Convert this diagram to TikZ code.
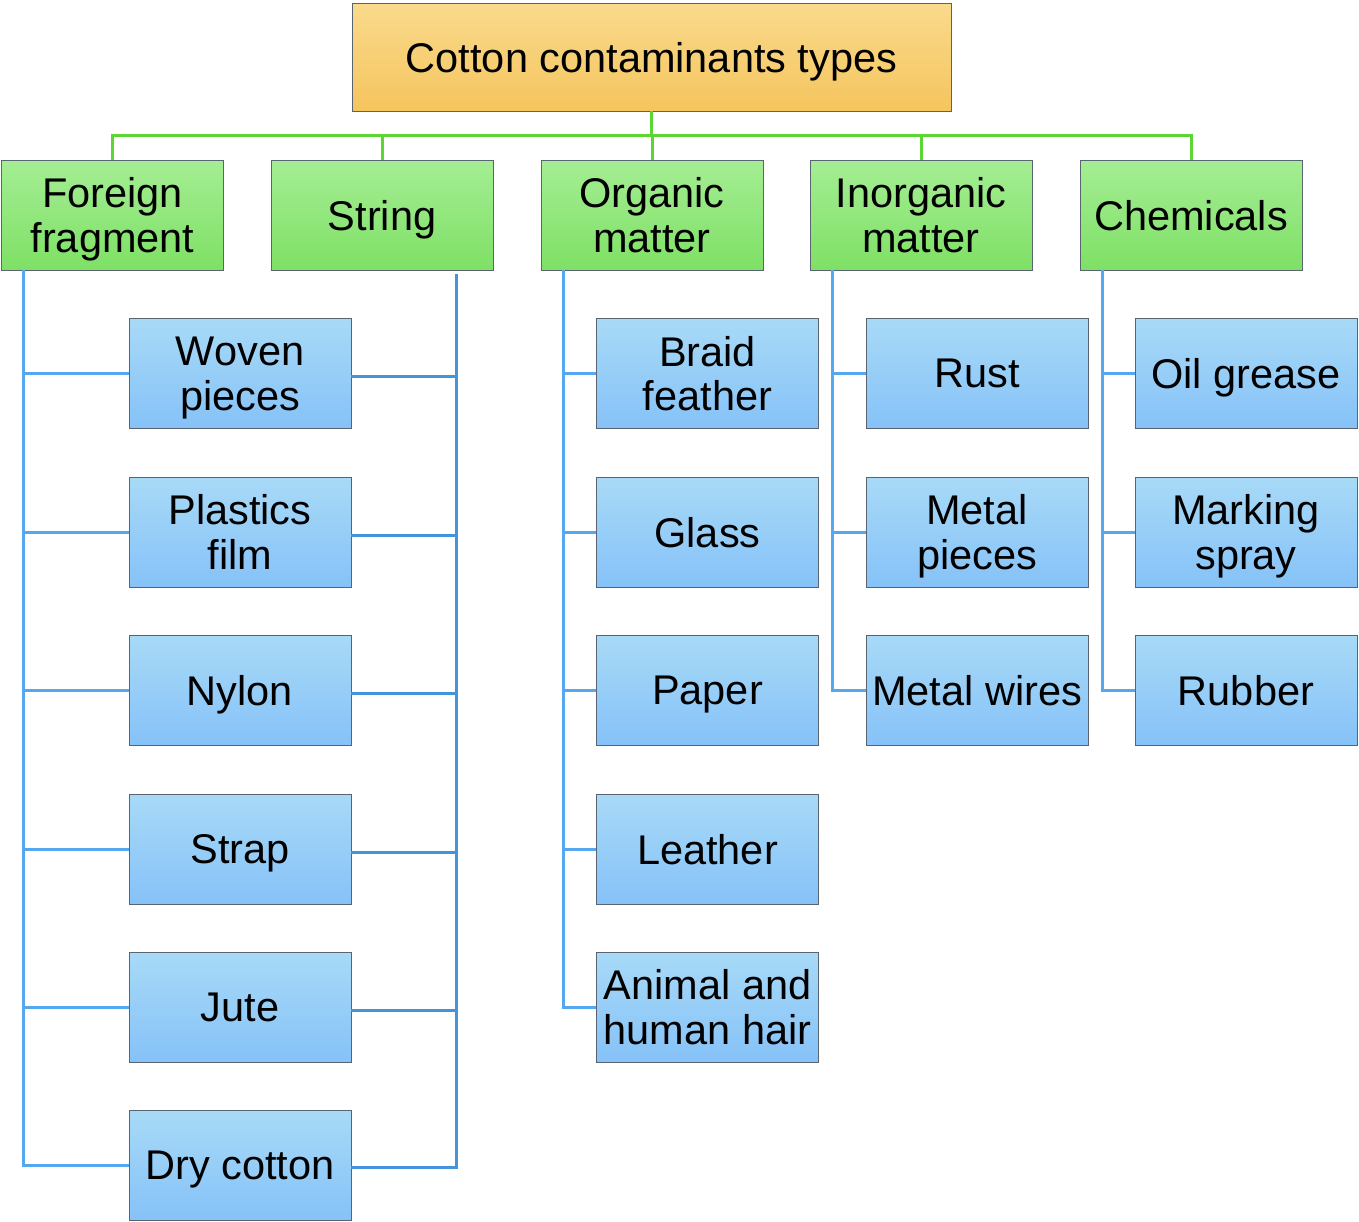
\documentclass[tikz,border=0pt]{standalone}
\usepackage{fontspec}
\setmainfont{Liberation Sans}
\usetikzlibrary{shadings}
\definecolor{rootT}{HTML}{F9DA8C}
\definecolor{rootB}{HTML}{F5C55E}
\definecolor{catT}{HTML}{A4EE94}
\definecolor{catB}{HTML}{7FE065}
\definecolor{leafT}{HTML}{A8DAF7}
\definecolor{leafB}{HTML}{86C2F8}
\definecolor{gline}{HTML}{5CD632}
\definecolor{bline}{HTML}{55A8F0}
\definecolor{sline}{HTML}{4494DC}
\definecolor{edge}{HTML}{5A6470}
\begin{document}
\begin{tikzpicture}[x=1pt,y=-1pt,
  box/.style={draw=edge, line width=0.9pt, inner sep=0pt, align=center,
    text depth=0pt, font=\fontsize{41.5}{44.5}\selectfont, text=black},
  rootbox/.style={box, top color=rootT, bottom color=rootB, minimum width=599pt, minimum height=108pt},
  catbox/.style={box, top color=catT, bottom color=catB, minimum width=222pt, minimum height=110pt},
  leafbox/.style={box, top color=leafT, bottom color=leafB, minimum width=222pt, minimum height=110pt},
  gcon/.style={draw=gline, line width=3pt},
  bcon/.style={draw=bline, line width=3pt},
  scon/.style={draw=sline, line width=3pt}]
\useasboundingbox (0,0) rectangle (1359,1221);

% root
\node[rootbox] (root) at (651.5,57) {Cotton contaminants types};

% categories
\node[catbox] (foreign) at (112.5,215) {Foreign\\fragment};
\node[catbox] (string) at (382,215) {String};
\node[catbox] (organic) at (652,215) {Organic\\matter};
\node[catbox] (inorganic) at (921,215) {Inorganic\\matter};
\node[catbox] (chem) at (1191,215) {Chemicals};

% column 1 leaves
\node[leafbox] (woven) at (240,373.5) {Woven\\pieces};
\node[leafbox] (plastic) at (240,532) {Plastics\\film};
\node[leafbox] (nylon) at (240,690) {Nylon};
\node[leafbox] (strap) at (240,849) {Strap};
\node[leafbox] (jute) at (240,1007) {Jute};
\node[leafbox] (dry) at (240,1165) {Dry cotton};

% organic leaves
\node[leafbox] (braid) at (707.5,373.5) {Braid\\feather};
\node[leafbox] (glass) at (707.5,532) {Glass};
\node[leafbox] (paper) at (707.5,690) {Paper};
\node[leafbox] (leather) at (707.5,849) {Leather};
\node[leafbox] (hair) at (707.5,1007) {Animal and\\human hair};

% inorganic leaves
\node[leafbox] (rust) at (977,373.5) {Rust};
\node[leafbox] (metalp) at (977,532) {Metal\\pieces};
\node[leafbox] (metalw) at (977,690) {Metal wires};

% chemical leaves
\node[leafbox] (oil) at (1246,373.5) {Oil grease};
\node[leafbox] (marking) at (1246,532) {Marking\\spray};
\node[leafbox] (rubber) at (1246,690) {Rubber};

% green bus
\coordinate (bus) at (651,135);
\draw[gcon] (root.south) -- (root.south |- bus);
\draw[gcon] (foreign.north) -- (foreign.north |- bus) -- (chem.north |- bus) -- (chem.north);
\draw[gcon] (string.north) -- (string.north |- bus);
\draw[gcon] (organic.north) -- (organic.north |- bus);
\draw[gcon] (inorganic.north) -- (inorganic.north |- bus);

% foreign fragment connectors
\coordinate (fT) at (23,270);
\draw[bcon] (fT) |- (dry.west);
\foreach \n in {woven,plastic,nylon,strap,jute}
  \draw[bcon] (\n.west) -- (\n.west -| fT);

% string connectors
\coordinate (sT) at (456,274);
\draw[scon] (sT) |- ([yshift=-2pt]dry.east);
\foreach \n in {woven,plastic,nylon,strap,jute}
  \draw[scon] ([yshift=-3pt]\n.east) -- ([yshift=-3pt]\n.east -| sT);

% organic connectors
\coordinate (oT) at (563,270);
\draw[bcon] (oT) |- (hair.west);
\foreach \n in {braid,glass,paper,leather}
  \draw[bcon] (\n.west) -- (\n.west -| oT);

% inorganic connectors
\coordinate (iT) at (832,270);
\draw[bcon] (iT) |- (metalw.west);
\foreach \n in {rust,metalp}
  \draw[bcon] (\n.west) -- (\n.west -| iT);

% chemicals connectors
\coordinate (cT) at (1102,270);
\draw[bcon] (cT) |- (rubber.west);
\foreach \n in {oil,marking}
  \draw[bcon] (\n.west) -- (\n.west -| cT);
\end{tikzpicture}
\end{document}
